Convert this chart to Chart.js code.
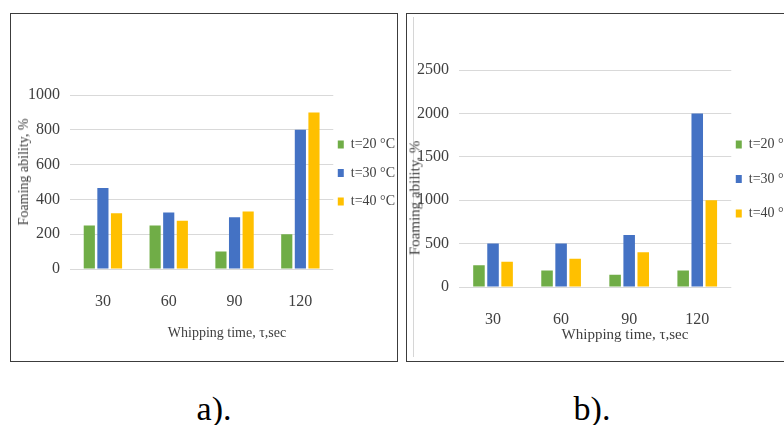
<!DOCTYPE html>
<html>
<head>
<meta charset="utf-8">
<script src="https://cdn.jsdelivr.net/npm/chart.js@4.4.1/dist/chart.umd.min.js"></script>
<style>
  body { margin: 0; width: 784px; height: 425px; overflow: hidden; background: #fff; position: relative; font-family: 'Liberation Serif', serif; }
  .box { position: absolute; border: 1px solid #3c3c3c; box-sizing: border-box; pointer-events: none; }
  canvas { position: absolute; }
  .lbl { position: absolute; white-space: nowrap; color: #404040; transform: translate(-50%, -50%); }
  .rot { transform: translate(-50%, -50%) rotate(-90deg); }
  .cap { position: absolute; font-size: 34px; color: #000; transform: translateX(-50%); top: 390px; }
</style>
</head>
<body>
<div class="box" style="left:10px; top:13px; width:388px; height:349px;"></div>
<div class="box" style="left:406px; top:13px; width:400px; height:349px;"></div>
<div style="position:absolute; left:413px; top:17px; width:0; height:340px; border-left:1px solid #d6d6d6;"></div>

<canvas id="chartA" style="left:11px; top:14px;" width="400" height="346"></canvas>
<canvas id="chartB" style="left:407px; top:14px;" width="420" height="346"></canvas>

<div class="lbl rot" style="left:24px; top:172px; font-size:14px;">Foaming ability, %</div>
<div class="lbl" style="left:227px; top:333px; font-size:14px;">Whipping time, τ,sec</div>
<div class="lbl rot" style="left:415px; top:198px; font-size:15px;">Foaming ability, %</div>
<div class="lbl" style="left:625px; top:334px; font-size:15px;">Whipping time, τ,sec</div>

<div class="cap" style="left:214px;">a).</div>
<div class="cap" style="left:592px;">b).</div>

<script>
// categorias y series
const categorias = ['30', '60', '90', '120'];
const series = ['t=20 °C', 't=30 °C', 't=40 °C'];
const colores = ['#70AD47', '#4472C4', '#FFC000'];

// a)
const t20A = [250, 250, 100, 200];
const t30A = [465, 325, 297, 800];
const t40A = [320, 278, 330, 900];
const ticksA = [0, 200, 400, 600, 800, 1000];

// b)
const t20B = [250, 190, 140, 190];
const t30B = [500, 500, 600, 2000];
const t40B = [290, 325, 400, 1000];
const ticksB = [0, 500, 1000, 1500, 2000, 2500];

const FUENTE = 'Liberation Serif';
const GRIS_TXT = '#404040';

function crearGrafico(id, valores, ticks, cfg) {
    const ctx = document.getElementById(id).getContext('2d');
    return new Chart(ctx, {
        type: 'bar',
        data: {
            labels: categorias,
            datasets: valores.map((v, i) => ({
                label: series[i],
                data: v,
                backgroundColor: colores[i],
                borderWidth: 0,
                categoryPercentage: 0.62,
                barPercentage: 0.82
            }))
        },
        options: {
            responsive: false,
            animation: false,
            layout: { padding: cfg.padding },
            plugins: {
                tooltip: { enabled: false },
                legend: {
                    position: 'right',
                    align: 'start',
                    fullSize: false,
                    title: { display: true, text: '', padding: { top: cfg.legendTop, bottom: 0 }, font: { size: 1, lineHeight: '0px' } },
                    labels: {
                        boxWidth: 6,
                        boxHeight: 8,
                        padding: 4.5,
                        color: GRIS_TXT,
                        font: { family: FUENTE, size: 14, lineHeight: cfg.legendLine },
                        // texto en arreglo para que el alto de cada item use lineHeight
                        generateLabels: chart => Chart.defaults.plugins.legend.labels.generateLabels(chart)
                            .map(l => Object.assign(l, { text: [l.text] }))
                    }
                }
            },
            scales: {
                x: {
                    grid: { display: false },
                    border: { display: false },
                    ticks: { color: GRIS_TXT, padding: 15, font: { family: FUENTE, size: 16 } },
                    afterFit: s => { s.height = 40; }
                },
                y: {
                    min: ticks[0],
                    max: ticks[ticks.length - 1],
                    grid: { color: '#d9d9d9', lineWidth: 1, drawTicks: false },
                    border: { display: false },
                    ticks: {
                        stepSize: ticks[1] - ticks[0],
                        color: GRIS_TXT,
                        padding: 10,
                        font: { family: FUENTE, size: 16 },
                        callback: v => String(v)
                    },
                    afterFit: s => { s.width = cfg.yWidth; }
                }
            }
        }
    });
}

crearGrafico('chartA', [t20A, t30A, t40A], ticksA, {
    padding: { left: 0, top: 81, right: 6, bottom: 51 },
    yWidth: 59,
    legendTop: 38,
    legendLine: '24px'
});

crearGrafico('chartB', [t20B, t30B, t40B], ticksB, {
    padding: { left: 0, top: 56, right: 24, bottom: 33 },
    yWidth: 52,
    legendTop: 63,
    legendLine: '30px'
});
</script>
</body>
</html>
